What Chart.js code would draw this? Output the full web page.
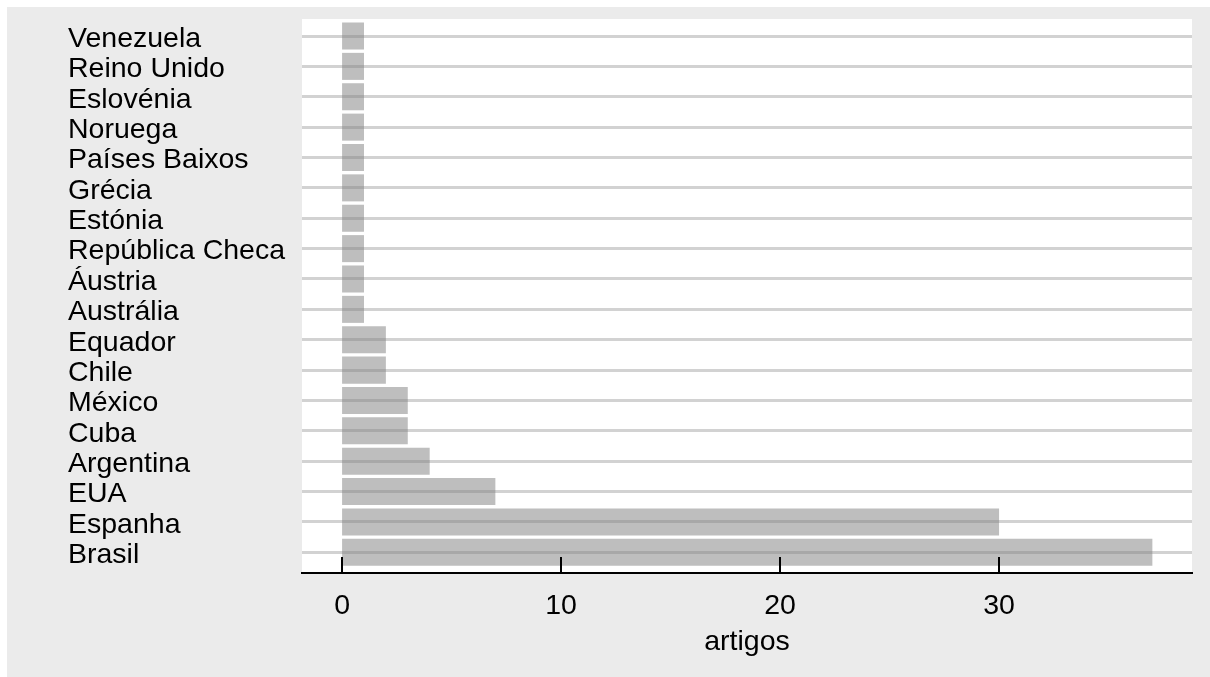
<!DOCTYPE html>
<html>
<head>
<meta charset="utf-8">
<script src="https://cdn.jsdelivr.net/npm/chart.js"></script>
<style>
  body { margin: 0; background: #fff; }
  #fundo { position: absolute; left: 7px; top: 7px; width: 1203px; height: 670px; background: #ebebeb; }
</style>
</head>
<body>
<div id="fundo"><canvas id="paisesChart" width="1203" height="670"></canvas></div>
<script>
// paises de cima para baixo e numero de artigos
const paises = ['Venezuela', 'Reino Unido', 'Eslovénia', 'Noruega', 'Países Baixos', 'Grécia',
  'Estónia', 'República Checa', 'Áustria', 'Austrália', 'Equador', 'Chile', 'México', 'Cuba',
  'Argentina', 'EUA', 'Espanha', 'Brasil'];
const artigos = [1, 1, 1, 1, 1, 1, 1, 1, 1, 1, 2, 2, 3, 3, 4, 7, 30, 37];
const xTicks = [0, 10, 20, 30];

const fonte = { family: "'Liberation Sans', Arial, sans-serif", size: 28.5 };

// painel branco atras das barras
const painel = {
  id: 'painel',
  beforeDraw(chart) {
    const a = chart.chartArea, ctx = chart.ctx;
    ctx.save();
    ctx.fillStyle = '#ffffff';
    ctx.fillRect(a.left, a.top, a.right - a.left, a.bottom - a.top);
    ctx.restore();
  }
};

// marcas do eixo x viradas para dentro
const marcasDentro = {
  id: 'marcasDentro',
  afterDatasetsDraw(chart) {
    const sx = chart.scales.x, ctx = chart.ctx, bottom = chart.chartArea.bottom;
    ctx.save();
    ctx.strokeStyle = '#000';
    ctx.lineWidth = 2;
    sx.ticks.forEach((t) => {
      const px = Math.round(sx.getPixelForValue(t.value));
      ctx.beginPath();
      ctx.moveTo(px, bottom);
      ctx.lineTo(px, bottom - 16);
      ctx.stroke();
    });
    ctx.restore();
  }
};

var ctx = document.getElementById('paisesChart').getContext('2d');
var chart = new Chart(ctx, {
  type: 'bar',
  data: {
    datasets: [{
      data: paises.map((p, i) => ({ x: artigos[i], y: i })),
      backgroundColor: 'rgba(128,128,128,0.51)',
      borderWidth: 0,
      barPercentage: 0.89,
      categoryPercentage: 1
    }]
  },
  options: {
    indexAxis: 'y',
    responsive: false,
    animation: false,
    layout: { padding: { left: 61, top: 12, right: 18, bottom: 0 } },
    plugins: { legend: { display: false }, tooltip: { enabled: false } },
    scales: {
      x: {
        type: 'linear',
        min: -1.83,
        max: 38.81,
        afterBuildTicks: (s) => { s.ticks = xTicks.map((v) => ({ value: v })); },
        afterFit: (s) => { s.height = 104; s.paddingLeft = 0; s.paddingRight = 0; },
        grid: { display: false, drawTicks: false },
        border: { display: true, color: '#000', width: 2 },
        ticks: { font: fonte, color: '#000', padding: 16, maxRotation: 0 },
        title: { display: true, text: 'artigos', font: fonte, color: '#000', padding: { top: 0, bottom: 18 } }
      },
      y: {
        type: 'linear',
        reverse: true,
        offset: false,
        min: -0.56,
        max: 17.68,
        afterBuildTicks: (s) => { s.ticks = paises.map((p, i) => ({ value: i })); },
        afterFit: (s) => { s.width = 234; s.paddingTop = 0; s.paddingBottom = 0; },
        grid: { color: '#d2d2d2', lineWidth: 3, drawTicks: false, offset: false },
        border: { display: false },
        ticks: {
          autoSkip: false,
          crossAlign: 'far',
          padding: 0,
          labelOffset: 3,
          font: fonte,
          color: '#000',
          callback: (v) => paises[v]
        }
      }
    }
  },
  plugins: [painel, marcasDentro]
});
</script>
</body>
</html>
